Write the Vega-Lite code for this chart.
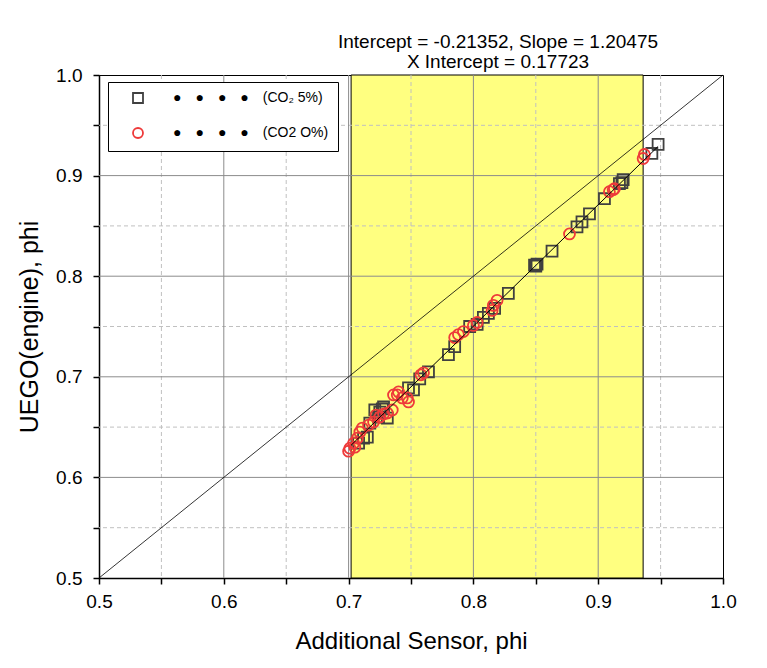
{
  "$schema": "https://vega.github.io/schema/vega-lite/v6.json",
  "width": 624,
  "height": 503,
  "autosize": {"type": "none"},
  "padding": {"left": 99, "top": 75, "right": 44, "bottom": 90},
  "background": "white",
  "config": {
    "font": "Liberation Sans",
    "view": {"stroke": "black", "strokeWidth": 1},
    "axis": {
      "grid": false,
      "domainColor": "black",
      "domainWidth": 1.5,
      "tickColor": "black",
      "tickWidth": 1.5,
      "labelFont": "Liberation Sans",
      "labelFontSize": 19,
      "labelColor": "black",
      "labelFlush": false,
      "labelOverlap": false,
      "titleFont": "Liberation Sans",
      "titleFontWeight": "normal",
      "titleColor": "black",
      "zindex": 1
    }
  },
  "title": {
    "text": ["Intercept = -0.21352, Slope = 1.20475", "X Intercept = 0.17723"],
    "font": "Liberation Sans",
    "fontSize": 19,
    "fontWeight": "normal",
    "color": "black",
    "anchor": "middle",
    "dx": 87,
    "offset": -6,
    "lineHeight": 20
  },
  "datasets": {
    "band": [{"x1": 0.702, "x2": 0.936}],
    "gridMajor": [{"v": 0.6}, {"v": 0.7}, {"v": 0.8}, {"v": 0.9}],
    "gridMinor": [{"v": 0.55}, {"v": 0.65}, {"v": 0.75}, {"v": 0.85}, {"v": 0.95}],
    "diag": [{"x": 0.5, "y": 0.5}, {"x": 1.0, "y": 1.0}],
    "fit": [{"x": 0.702, "y": 0.632}, {"x": 0.948, "y": 0.929}],
    "pts": [
      {"x": 0.948, "y": 0.931, "series": "CO2 5%"},
      {"x": 0.943, "y": 0.922, "series": "CO2 5%"},
      {"x": 0.920, "y": 0.896, "series": "CO2 5%"},
      {"x": 0.919, "y": 0.893, "series": "CO2 5%"},
      {"x": 0.917, "y": 0.892, "series": "CO2 5%"},
      {"x": 0.905, "y": 0.877, "series": "CO2 5%"},
      {"x": 0.893, "y": 0.862, "series": "CO2 5%"},
      {"x": 0.887, "y": 0.854, "series": "CO2 5%"},
      {"x": 0.883, "y": 0.849, "series": "CO2 5%"},
      {"x": 0.863, "y": 0.825, "series": "CO2 5%"},
      {"x": 0.851, "y": 0.812, "series": "CO2 5%"},
      {"x": 0.850, "y": 0.810, "series": "CO2 5%"},
      {"x": 0.849, "y": 0.811, "series": "CO2 5%"},
      {"x": 0.828, "y": 0.783, "series": "CO2 5%"},
      {"x": 0.817, "y": 0.768, "series": "CO2 5%"},
      {"x": 0.812, "y": 0.763, "series": "CO2 5%"},
      {"x": 0.808, "y": 0.759, "series": "CO2 5%"},
      {"x": 0.803, "y": 0.752, "series": "CO2 5%"},
      {"x": 0.797, "y": 0.750, "series": "CO2 5%"},
      {"x": 0.785, "y": 0.730, "series": "CO2 5%"},
      {"x": 0.780, "y": 0.722, "series": "CO2 5%"},
      {"x": 0.764, "y": 0.705, "series": "CO2 5%"},
      {"x": 0.757, "y": 0.698, "series": "CO2 5%"},
      {"x": 0.752, "y": 0.687, "series": "CO2 5%"},
      {"x": 0.748, "y": 0.689, "series": "CO2 5%"},
      {"x": 0.728, "y": 0.670, "series": "CO2 5%"},
      {"x": 0.731, "y": 0.659, "series": "CO2 5%"},
      {"x": 0.724, "y": 0.660, "series": "CO2 5%"},
      {"x": 0.721, "y": 0.667, "series": "CO2 5%"},
      {"x": 0.725, "y": 0.665, "series": "CO2 5%"},
      {"x": 0.727, "y": 0.668, "series": "CO2 5%"},
      {"x": 0.717, "y": 0.654, "series": "CO2 5%"},
      {"x": 0.715, "y": 0.640, "series": "CO2 5%"},
      {"x": 0.712, "y": 0.639, "series": "CO2 5%"},
      {"x": 0.708, "y": 0.634, "series": "CO2 5%"},
      {"x": 0.937, "y": 0.921, "series": "CO2 0%"},
      {"x": 0.936, "y": 0.917, "series": "CO2 0%"},
      {"x": 0.913, "y": 0.887, "series": "CO2 0%"},
      {"x": 0.912, "y": 0.886, "series": "CO2 0%"},
      {"x": 0.909, "y": 0.884, "series": "CO2 0%"},
      {"x": 0.877, "y": 0.842, "series": "CO2 0%"},
      {"x": 0.819, "y": 0.776, "series": "CO2 0%"},
      {"x": 0.816, "y": 0.771, "series": "CO2 0%"},
      {"x": 0.815, "y": 0.766, "series": "CO2 0%"},
      {"x": 0.803, "y": 0.754, "series": "CO2 0%"},
      {"x": 0.800, "y": 0.751, "series": "CO2 0%"},
      {"x": 0.792, "y": 0.745, "series": "CO2 0%"},
      {"x": 0.788, "y": 0.742, "series": "CO2 0%"},
      {"x": 0.785, "y": 0.739, "series": "CO2 0%"},
      {"x": 0.760, "y": 0.704, "series": "CO2 0%"},
      {"x": 0.758, "y": 0.702, "series": "CO2 0%"},
      {"x": 0.740, "y": 0.685, "series": "CO2 0%"},
      {"x": 0.739, "y": 0.682, "series": "CO2 0%"},
      {"x": 0.747, "y": 0.679, "series": "CO2 0%"},
      {"x": 0.748, "y": 0.675, "series": "CO2 0%"},
      {"x": 0.743, "y": 0.679, "series": "CO2 0%"},
      {"x": 0.736, "y": 0.682, "series": "CO2 0%"},
      {"x": 0.735, "y": 0.667, "series": "CO2 0%"},
      {"x": 0.731, "y": 0.664, "series": "CO2 0%"},
      {"x": 0.728, "y": 0.663, "series": "CO2 0%"},
      {"x": 0.725, "y": 0.660, "series": "CO2 0%"},
      {"x": 0.722, "y": 0.662, "series": "CO2 0%"},
      {"x": 0.720, "y": 0.655, "series": "CO2 0%"},
      {"x": 0.716, "y": 0.652, "series": "CO2 0%"},
      {"x": 0.711, "y": 0.649, "series": "CO2 0%"},
      {"x": 0.709, "y": 0.645, "series": "CO2 0%"},
      {"x": 0.707, "y": 0.639, "series": "CO2 0%"},
      {"x": 0.705, "y": 0.630, "series": "CO2 0%"},
      {"x": 0.704, "y": 0.634, "series": "CO2 0%"},
      {"x": 0.701, "y": 0.629, "series": "CO2 0%"},
      {"x": 0.700, "y": 0.626, "series": "CO2 0%"}
    ]
  },
  "layer": [
    {
      "data": {"name": "band"},
      "mark": {"type": "rect", "color": "#ffff80", "stroke": "black", "strokeWidth": 1},
      "encoding": {
        "x": {"field": "x1", "type": "quantitative", "scale": {"domain": [0.5, 1.0], "nice": false, "zero": false},
          "axis": {
            "title": "Additional Sensor, phi",
            "titleFontSize": 24,
            "values": [0.5, 0.55, 0.6, 0.65, 0.7, 0.75, 0.8, 0.85, 0.9, 0.95, 1.0],
            "labelExpr": "abs(datum.value*10 - round(datum.value*10)) < 0.001 ? format(datum.value, '.1f') : ''",
            "tickSize": 6,
            "labelPadding": 8,
            "titlePadding": 18
          }},
        "x2": {"field": "x2"},
        "y": {"datum": 0.5, "type": "quantitative", "scale": {"domain": [0.5, 1.0], "nice": false, "zero": false},
          "axis": {
            "title": "UEGO(engine), phi",
            "titleFontSize": 25,
            "values": [0.5, 0.55, 0.6, 0.65, 0.7, 0.75, 0.8, 0.85, 0.9, 0.95, 1.0],
            "labelExpr": "abs(datum.value*10 - round(datum.value*10)) < 0.001 ? format(datum.value, '.1f') : ''",
            "tickSize": 6,
            "labelPadding": 11,
            "titlePadding": 13
          }},
        "y2": {"datum": 1.0}
      }
    },
    {
      "data": {"name": "gridMinor"},
      "mark": {"type": "rule", "color": "#c0c0c0", "strokeWidth": 1, "strokeDash": [4, 3]},
      "encoding": {"x": {"field": "v", "type": "quantitative"}}
    },
    {
      "data": {"name": "gridMinor"},
      "mark": {"type": "rule", "color": "#c0c0c0", "strokeWidth": 1, "strokeDash": [4, 3]},
      "encoding": {"y": {"field": "v", "type": "quantitative"}}
    },
    {
      "data": {"name": "gridMajor"},
      "mark": {"type": "rule", "color": "#8c8c8c", "strokeWidth": 1},
      "encoding": {"x": {"field": "v", "type": "quantitative"}}
    },
    {
      "data": {"name": "gridMajor"},
      "mark": {"type": "rule", "color": "#8c8c8c", "strokeWidth": 1},
      "encoding": {"y": {"field": "v", "type": "quantitative"}}
    },
    {
      "data": {"name": "pts"},
      "mark": {"type": "point", "filled": false, "strokeWidth": 1.8, "opacity": 1},
      "encoding": {
        "x": {"field": "x", "type": "quantitative"},
        "y": {"field": "y", "type": "quantitative"},
        "color": {"field": "series", "type": "nominal",
          "scale": {"domain": ["CO2 5%", "CO2 0%"], "range": ["#404040", "#ee3a3a"]},
          "legend": {
            "orient": "none", "legendX": 9, "legendY": 7,
            "title": null,
            "strokeColor": "black", "fillColor": "white",
            "padding": 9, "symbolOffset": 14, "labelOffset": 28,
            "rowPadding": 17,
            "symbolStrokeWidth": 1.8,
            "labelFontSize": 14, "labelColor": "black", "labelFont": "Liberation Sans",
            "labelLimit": 400,
            "labelExpr": "(datum.value == 'CO2 5%' ? '●\u2003●\u2003●\u2003●\u2003(CO₂ 5%)' : '●\u2003●\u2003●\u2003●\u2003(CO2 O%)')"
          }},
        "shape": {"field": "series", "type": "nominal",
          "scale": {"domain": ["CO2 5%", "CO2 0%"], "range": ["square", "circle"]}},
        "size": {"value": 120}
      }
    },
    {
      "data": {"name": "diag"},
      "mark": {"type": "line", "color": "black", "strokeWidth": 0.8},
      "encoding": {"x": {"field": "x", "type": "quantitative"}, "y": {"field": "y", "type": "quantitative"}}
    },
    {
      "data": {"name": "fit"},
      "mark": {"type": "line", "color": "black", "strokeWidth": 1},
      "encoding": {"x": {"field": "x", "type": "quantitative"}, "y": {"field": "y", "type": "quantitative"}}
    }
  ]
}
